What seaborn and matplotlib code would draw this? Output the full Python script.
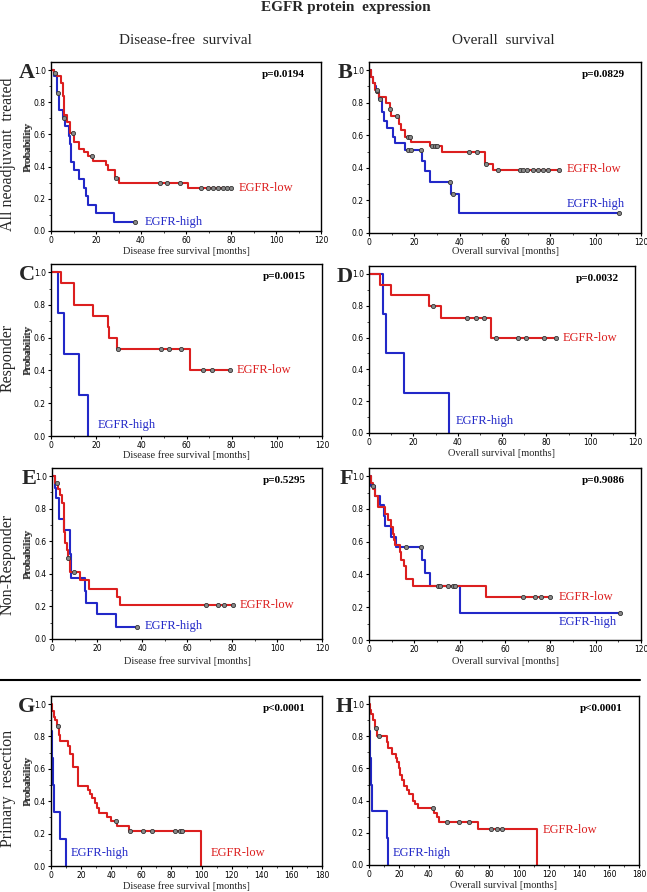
import numpy as np
import pandas as pd
import matplotlib
matplotlib.use("Agg")
import matplotlib.pyplot as plt
import seaborn as sns

# ---------------- data ----------------
# Panel A: DFS, all neoadjuvant treated
a_low_t = [0, 1.2, 2.7, 4.5, 5.2, 5.6, 7.1, 8.6, 10.4, 12.3, 14.5, 16.3, 18.7, 24.6, 25.3, 28.3, 30.0, 60.9, 80]
a_low_s = [1.0, 0.98, 0.96, 0.92, 0.84, 0.72, 0.68, 0.61, 0.555, 0.51, 0.49, 0.465, 0.435, 0.41, 0.38, 0.33, 0.30, 0.265, 0.265]
a_low_c = [2.0, 9.8, 18.2, 28.8, 48.3, 51.6, 57.2, 66.8, 69.6, 71.9, 74.1, 76.3, 78.2, 80]
a_high_t = [0, 1.2, 2.7, 3.4, 5.3, 6.4, 7.9, 8.3, 8.9, 10.0, 12.3, 14.5, 15.4, 16.3, 20.1, 27.9, 37.5]
a_high_s = [1.0, 0.96, 0.86, 0.75, 0.70, 0.65, 0.59, 0.54, 0.43, 0.38, 0.32, 0.27, 0.215, 0.16, 0.11, 0.054, 0.054]
a_high_c = [2.9, 5.6, 37.5]

# Panel B: OS, all neoadjuvant treated
b_low_t = [0, 1.0, 1.8, 2.5, 3.6, 4.4, 7.4, 9.1, 9.9, 13.3, 14.3, 15.8, 18.7, 26.8, 32.4, 51.1, 54.5, 84]
b_low_s = [1.0, 0.96, 0.92, 0.88, 0.86, 0.835, 0.80, 0.76, 0.72, 0.67, 0.63, 0.59, 0.56, 0.535, 0.50, 0.425, 0.388, 0.388]
b_low_c = [3.5, 9.3, 12.5, 17, 18, 28, 29, 30, 44, 47.8, 51.5, 57, 66.6, 68.1, 69.9, 72.5, 74.7, 76.9, 78.8, 84]
b_high_t = [0, 1.0, 1.8, 2.5, 3.2, 4.4, 5.9, 6.6, 8.0, 10.6, 11.6, 15.8, 23.4, 24.6, 26.8, 36.0, 39.8, 110.4]
b_high_s = [1.0, 0.96, 0.92, 0.90, 0.87, 0.825, 0.74, 0.69, 0.645, 0.59, 0.553, 0.51, 0.445, 0.38, 0.315, 0.24, 0.124, 0.124]
b_high_c = [3.4, 5.0, 17, 18.7, 22.8, 35.7, 37, 110.4]

# Panel C: DFS, responder
c_low_t = [0, 4.6, 10.0, 10.3, 18.7, 25.3, 25.9, 29.3, 61.5, 79.3]
c_low_s = [1.0, 0.933, 0.867, 0.80, 0.733, 0.667, 0.60, 0.533, 0.40, 0.40]
c_low_c = [29.6, 48.9, 52.3, 57.5, 67.1, 71.1, 79.3]
c_high_t = [0, 3.1, 5.9, 12.3, 16.4]
c_high_s = [1.0, 0.75, 0.50, 0.25, 0.0]
c_high_c = []

# Panel D: OS, responder
d_low_t = [0, 4.8, 9.9, 26.9, 32.6, 55.0, 84.4]
d_low_s = [1.0, 0.933, 0.867, 0.80, 0.72, 0.60, 0.60]
d_low_c = [28.8, 44.3, 48.2, 51.7, 57.2, 67.0, 70.7, 79.0, 84.4]
d_high_t = [0, 6.3, 7.8, 15.9, 36.0]
d_high_s = [1.0, 0.75, 0.50, 0.25, 0.0]
d_high_c = []

# Panel E: DFS, non-responder
e_low_t = [0, 1.5, 2.6, 3.4, 4.5, 5.2, 5.5, 5.9, 6.7, 7.0, 7.9, 12.6, 16.4, 29.0, 30.2, 80.3]
e_low_s = [1.0, 0.96, 0.92, 0.886, 0.834, 0.772, 0.66, 0.59, 0.545, 0.50, 0.41, 0.362, 0.306, 0.259, 0.207, 0.207]
e_low_c = [2.4, 7.2, 9.7, 68.4, 73.6, 76.3, 80.3]
e_high_t = [0, 1.2, 1.9, 3.3, 5.2, 7.9, 8.2, 8.6, 14.6, 15.3, 20.0, 28.3, 37.6]
e_high_s = [1.0, 0.93, 0.865, 0.735, 0.669, 0.60, 0.52, 0.373, 0.296, 0.224, 0.151, 0.075, 0.075]
e_high_c = [37.6]

# Panel F: OS, non-responder
f_low_t = [0, 1.0, 1.8, 2.7, 4.0, 7.0, 8.5, 9.5, 10.5, 11.0, 11.4, 13.6, 14.3, 15.3, 16.5, 19.2, 51.5, 80]
f_low_s = [1.0, 0.96, 0.92, 0.88, 0.81, 0.77, 0.73, 0.69, 0.65, 0.61, 0.58, 0.54, 0.49, 0.45, 0.37, 0.332, 0.263, 0.263]
f_low_c = [68.1, 73.3, 75.9, 79.9]
f_high_t = [0, 1.0, 2.5, 5.0, 6.5, 6.9, 9.9, 11.8, 23.4, 24.6, 26.8, 40.1, 110.6]
f_high_s = [1.0, 0.94, 0.88, 0.826, 0.757, 0.695, 0.627, 0.568, 0.49, 0.41, 0.332, 0.162, 0.162]
f_high_c = [1.6, 16.5, 23.1, 30.5, 31.3, 35, 36.9, 37.9, 110.6]

# Panel G: DFS, primary resection
g_low_t = [0, 0.7, 1.8, 2.9, 4.0, 5.1, 5.8, 11.3, 12.4, 14.7, 18.0, 24.4, 26.2, 27.3, 29.1, 30.7, 31.8, 36.9, 39.6, 44.0, 51.8, 99.8]
g_low_s = [1.0, 0.96, 0.92, 0.90, 0.867, 0.807, 0.775, 0.744, 0.692, 0.609, 0.495, 0.47, 0.445, 0.418, 0.387, 0.36, 0.328, 0.30, 0.277, 0.245, 0.214, 0.0]
g_low_c = [4.4, 42.9, 52.2, 61.1, 67.3, 82.2, 85.8, 87.3]
g_high_t = [0, 0.2, 0.8, 1.2, 1.8, 6.2, 10.2]
g_high_s = [1.0, 0.833, 0.667, 0.50, 0.333, 0.167, 0.0]
g_high_c = []

# Panel H: OS, primary resection
h_low_t = [0, 0.7, 1.3, 2.9, 4.0, 5.1, 11.8, 12.9, 15.1, 18.0, 18.9, 19.8, 20.7, 21.8, 23.3, 25.6, 26.9, 29.6, 30.7, 32.4, 43.6, 45.1, 46.9, 72.4, 112.2]
h_low_s = [1.0, 0.96, 0.94, 0.90, 0.85, 0.80, 0.763, 0.727, 0.69, 0.665, 0.64, 0.60, 0.56, 0.53, 0.49, 0.467, 0.443, 0.40, 0.378, 0.355, 0.324, 0.296, 0.269, 0.223, 0.0]
h_low_c = [4.4, 6.7, 42.9, 51.8, 60.2, 66.7, 81.1, 85.1, 88.4]
h_high_t = [0, 0.3, 0.9, 1.3, 1.8, 12.0, 12.5]
h_high_s = [1.0, 0.833, 0.667, 0.50, 0.333, 0.167, 0.0]
h_high_c = []

panel_letters = ["A", "B", "C", "D", "E", "F", "G", "H"]
p_values = ["p=0.0194", "p=0.0829", "p=0.0015", "p=0.0032", "p=0.5295", "p=0.9086", "p<0.0001", "p<0.0001"]
row_labels = ["All neoadjuvant  treated", "Responder", "Non-Responder", "Primary  resection"]
col_titles = ["Disease-free  survival", "Overall  survival"]
x_labels = ["Disease free survival [months]", "Overall survival [months]"]
group_names = ["EGFR-low", "EGFR-high"]

# ---------------- layout ----------------
W, H = 647, 892
RED = "#dc1f1f"
BLUE = "#2228c8"
SERIF = "Liberation Serif"

sns.set_theme(style="ticks")
plt.rcParams["font.family"] = [SERIF, "DejaVu Serif"]

fig = plt.figure(figsize=(W / 100, H / 100), dpi=100)
fig.patch.set_facecolor("white")

# pixel boxes: (left, top, right, bottom)
boxes = [(51, 62, 321, 231), (369, 62, 641, 233),
         (51, 264, 322, 436), (369, 266, 635, 433),
         (52, 468, 322, 639), (369, 468, 641, 640),
         (51, 696, 322, 866), (369, 696, 639, 865)]
xlabel_y = [251, 252, 455, 454, 661, 661, 886, 886]

panels = [
    (a_low_t, a_low_s, a_low_c, a_high_t, a_high_s, a_high_c, (83.4, 0.27), (41.5, 0.055)),
    (b_low_t, b_low_s, b_low_c, b_high_t, b_high_s, b_high_c, (87, 0.39), (87, 0.18)),
    (c_low_t, c_low_s, c_low_c, c_high_t, c_high_s, c_high_c, (82, 0.40), (20.7, 0.066)),
    (d_low_t, d_low_s, d_low_c, d_high_t, d_high_s, d_high_c, (87.4, 0.60), (39.2, 0.073)),
    (e_low_t, e_low_s, e_low_c, e_high_t, e_high_s, e_high_c, (83.3, 0.21), (41.2, 0.08)),
    (f_low_t, f_low_s, f_low_c, f_high_t, f_high_s, f_high_c, (83.6, 0.26), (83.6, 0.11)),
    (g_low_t, g_low_s, g_low_c, g_high_t, g_high_s, g_high_c, (106, 0.083), (13.3, 0.083)),
    (h_low_t, h_low_s, h_low_c, h_high_t, h_high_s, h_high_c, (115.8, 0.22), (15.8, 0.075)),
]


def step_value(t, s, c):
    t = np.asarray(t)
    s = np.asarray(s)
    idx = np.searchsorted(t, c, side="right") - 1
    return s[np.clip(idx, 0, len(s) - 1)]


for i, (box, pan) in enumerate(zip(boxes, panels)):
    l, tp, r, b = box
    ax = fig.add_axes([l / W, 1 - b / H, (r - l) / W, (b - tp) / H])
    lt, ls, lc, ht, hs, hc, lpos, hpos = pan
    xmax = 180 if i >= 6 else 120

    for t, s, c, col in [(ht, hs, hc, BLUE), (lt, ls, lc, RED)]:
        sns.lineplot(x=t, y=s, ax=ax, color=col, lw=1.5, drawstyle="steps-post",
                     estimator=None, sort=False, legend=False)
        if len(c):
            cy = step_value(t, s, c)
            sns.scatterplot(x=c, y=cy, ax=ax, marker="o", s=9, color="#8a8a8a",
                            edgecolor="#333333", linewidth=0.6, zorder=5, legend=False)

    ax.text(lpos[0], lpos[1], group_names[0], color=RED, fontsize=9, ha="left", va="center")
    ax.text(hpos[0], hpos[1], group_names[1], color=BLUE, fontsize=9, ha="left", va="center")
    ax.text(0.94, 0.925, p_values[i], transform=ax.transAxes, fontsize=8,
            fontweight="bold", ha="right", va="center", color="black")

    ax.set_xlim(0, xmax)
    ax.set_ylim(0, 1.05)
    ax.set_xticks(np.arange(0, xmax + 1, 20))
    ax.set_xticks(np.arange(0, xmax + 1, 10), minor=True)
    ax.set_yticks(np.arange(0, 1.01, 0.2))
    ax.set_yticks(np.arange(0, 1.01, 0.1), minor=True)
    ax.set_xticklabels([f"{v:d}" for v in np.arange(0, xmax + 1, 20)],
                       fontsize=5.5, family="DejaVu Sans")
    ax.set_yticklabels([f"{v:.1f}" for v in np.arange(0, 1.01, 0.2)],
                       fontsize=5.5, family="DejaVu Sans")
    ax.tick_params(axis="both", which="major", direction="out", length=2.5, width=0.8,
                   pad=1.2, colors="black")
    ax.tick_params(axis="both", which="minor", direction="out", length=1.5, width=0.6)
    for sp in ax.spines.values():
        sp.set_visible(True)
        sp.set_color("black")
        sp.set_linewidth(1.0)
    ax.set_xlabel("")
    ax.set_ylabel("")
    ax.set_facecolor("white")
    ax.grid(False)

    # y-label "Probability"
    ax.text((28 - l) / (r - l), 0.5, "Probability", transform=ax.transAxes, rotation=90,
            fontsize=8, ha="center", va="center")
    # x-label
    ax.text(0.5, (b - xlabel_y[i]) / (b - tp), x_labels[i % 2], transform=ax.transAxes,
            fontsize=7.5, ha="center", va="center")

    # panel letter
    fig.text((l - 16) / W, 1 - (tp + 11) / H, panel_letters[i], fontsize=16,
             fontweight="bold", ha="right", va="center")

# title and column headings
fig.text(346 / W, 1 - 7 / H, "EGFR protein  expression", fontsize=11, fontweight="bold",
         ha="center", va="center")
fig.text(185 / W, 1 - 40 / H, col_titles[0], fontsize=11, ha="center", va="center")
fig.text(503 / W, 1 - 40 / H, col_titles[1], fontsize=11, ha="center", va="center")

# row labels
for lab, yc in zip(row_labels, [154.5, 357.5, 564, 788]):
    fig.text(8 / W, 1 - yc / H, lab, fontsize=11.5, rotation=90, ha="center", va="center")

# separator line
fig.add_artist(plt.Line2D([0, 640 / W], [1 - 680 / H, 1 - 680 / H], color="black", lw=1.5))

fig.savefig("out.png", dpi=100, facecolor="white")
